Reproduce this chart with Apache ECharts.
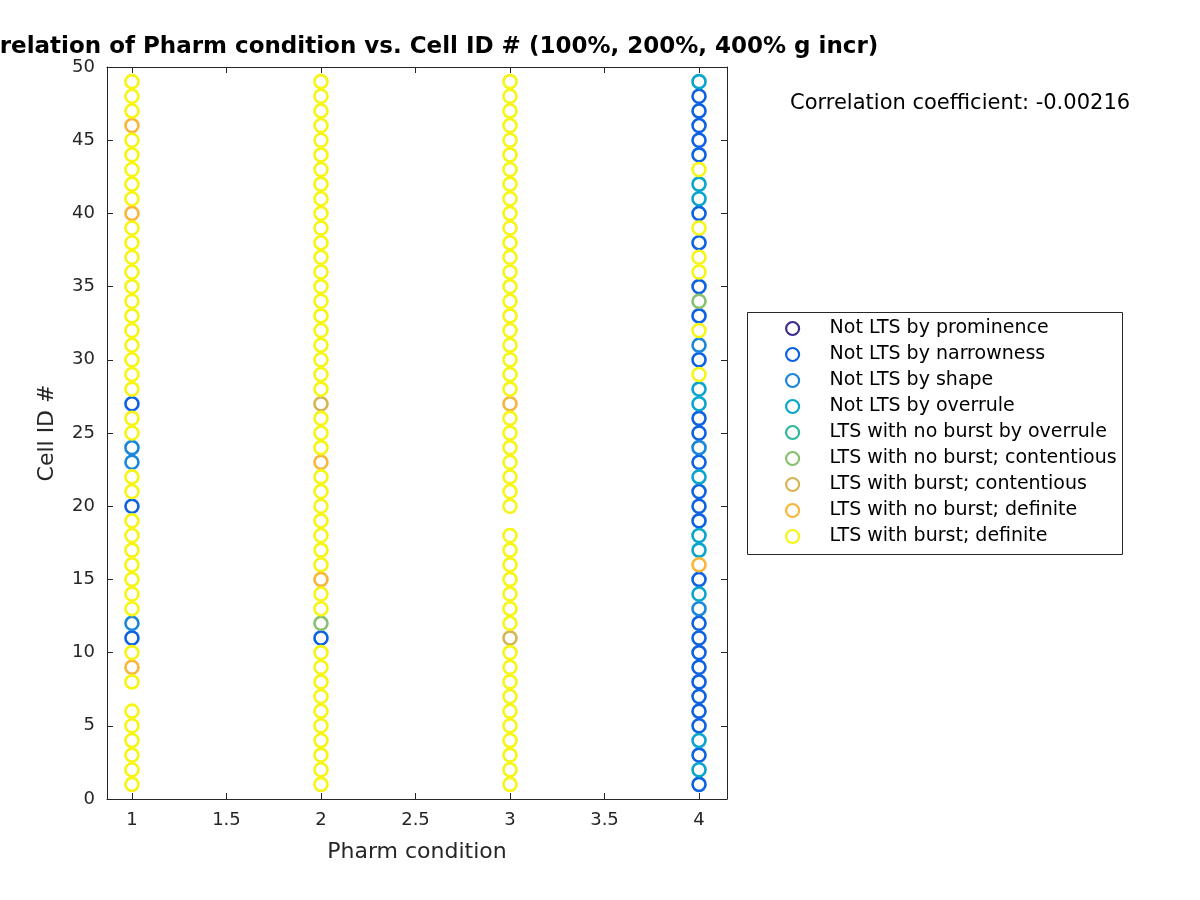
<!DOCTYPE html>
<html>
<head>
<meta charset="utf-8">
<script src="https://cdn.jsdelivr.net/npm/echarts@6/dist/echarts.min.js"></script>
<style>html,body{margin:0;padding:0;background:#fff}#c{width:1200px;height:900px}</style>
</head>
<body>
<div id="c"></div>
<script>
const categoryNames = ['Not LTS by prominence','Not LTS by narrowness','Not LTS by shape','Not LTS by overrule','LTS with no burst by overrule','LTS with no burst; contentious','LTS with burst; contentious','LTS with no burst; definite','LTS with burst; definite'];
const categoryColors = ['#3b2d8f','#0d62e2','#1a86dc','#0aa5cc','#2fb7a0','#88c06e','#d6b451','#f9b53a','#f7f514'];
const pharmConditions = [1, 2, 3, 4];
// category code for each Cell ID 1..49 (null = no point)
const cond1Cats = [8,8,8,8,8,8,null,8,7,8, 1,2,8,8,8,8,8,8,8,1, 8,8,2,2,8,8,1,8,8,8, 8,8,8,8,8,8,8,8,8,7, 8,8,8,8,8,7,8,8,8];
const cond2Cats = [8,8,8,8,8,8,8,8,8,8, 1,5,8,8,7,8,8,8,8,8, 8,8,7,8,8,8,6,8,8,8, 8,8,8,8,8,8,8,8,8,8, 8,8,8,8,8,8,8,8,8];
const cond3Cats = [8,8,8,8,8,8,8,8,8,8, 6,8,8,8,8,8,8,8,null,8, 8,8,8,8,8,8,7,8,8,8, 8,8,8,8,8,8,8,8,8,8, 8,8,8,8,8,8,8,8,8];
const cond4Cats = [1,3,1,3,1,1,1,1,1,1, 1,1,2,3,1,7,3,3,1,1, 1,3,1,2,1,1,3,3,8,1, 2,8,1,5,1,8,8,1,8,1, 3,3,8,1,1,1,1,1,3];
const xTicks = [1,1.5,2,2.5,3,3.5,4];
const corrText = 'Correlation coefficient: -0.00216';
const titleText = 'Correlation of Pharm condition vs. Cell ID # (100%, 200%, 400% g incr)';

const allCats = [cond1Cats, cond2Cats, cond3Cats, cond4Cats];
const seriesData = categoryNames.map(() => []);
allCats.forEach((arr, ci) => {
  arr.forEach((c, i) => { if (c !== null) seriesData[c].push([pharmConditions[ci], i + 1]); });
});

const font = 'DejaVu Sans';
const txt = '#262626';
const chart = echarts.init(document.getElementById('c'), null, {renderer: 'canvas'});
const axisLineStyle = {color: '#262626', width: 1};
const xMin = 0.868, xMax = 4.148;
chart.setOption({
  animation: false,
  backgroundColor: '#fff',
  grid: {left: 107, top: 67, right: 473, bottom: 101, show: false},
  xAxis: [{
    type: 'value', min: xMin, max: xMax, position: 'bottom',
    name: 'Pharm condition', nameLocation: 'middle', nameGap: 42,
    nameTextStyle: {fontFamily: font, fontSize: 22, color: txt},
    axisLine: {show: true, onZero: false, lineStyle: axisLineStyle},
    axisTick: {show: true, inside: true, length: 6, customValues: xTicks, lineStyle: axisLineStyle},
    axisLabel: {show: true, customValues: xTicks, fontFamily: font, fontSize: 18, color: txt, margin: 12},
    splitLine: {show: false}
  }, {
    type: 'value', min: xMin, max: xMax, position: 'top',
    axisLine: {show: true, onZero: false, lineStyle: axisLineStyle},
    axisTick: {show: true, inside: true, length: 6, customValues: xTicks, lineStyle: axisLineStyle},
    axisLabel: {show: false}, splitLine: {show: false}
  }],
  yAxis: [{
    type: 'value', min: 0, max: 50, interval: 5, position: 'left',
    name: 'Cell ID #', nameLocation: 'middle', nameGap: 49, nameRotate: 90,
    nameTextStyle: {fontFamily: font, fontSize: 22, color: txt},
    axisLine: {show: true, onZero: false, lineStyle: axisLineStyle},
    axisTick: {show: true, inside: true, length: 6, lineStyle: axisLineStyle},
    axisLabel: {fontFamily: font, fontSize: 18, color: txt, margin: 12},
    splitLine: {show: false}
  }, {
    type: 'value', min: 0, max: 50, interval: 5, position: 'right',
    axisLine: {show: true, onZero: false, lineStyle: axisLineStyle},
    axisTick: {show: true, inside: true, length: 6, lineStyle: axisLineStyle},
    axisLabel: {show: false}, splitLine: {show: false}
  }],
  legend: {
    orient: 'vertical', left: 747, top: 312, padding: [7, 8, 10, 38],
    itemWidth: 64, itemHeight: 13, itemGap: 7,
    textStyle: {fontFamily: font, fontSize: 19, color: '#000'},
    selectedMode: false,
    data: categoryNames.map((n, i) => ({name: n, icon: 'circle',
      itemStyle: {color: '#fff', borderColor: categoryColors[i], borderWidth: 2.2, opacity: 1}}))
  },
  graphic: [
    {type: 'rect', shape: {x: 747.5, y: 312.5, width: 375, height: 242}, style: {fill: null, stroke: '#262626', lineWidth: 1}, z: 0, silent: true},
    {type: 'text', x: 417, y: 47, style: {text: titleText, font: 'bold 23px "DejaVu Sans"', fill: '#000', textAlign: 'center', textVerticalAlign: 'middle'}},
    {type: 'text', x: 790, y: 104, style: {text: corrText, font: '21px "DejaVu Sans"', fill: '#000', textAlign: 'left', textVerticalAlign: 'middle'}}
  ],
  series: categoryNames.map((n, i) => ({
    name: n, type: 'scatter', xAxisIndex: 0, yAxisIndex: 0,
    symbol: 'circle', symbolSize: 13,
    itemStyle: {color: 'rgba(255,255,255,0)', borderColor: categoryColors[i], borderWidth: 2.6, opacity: 1},
    data: seriesData[i], silent: true
  }))
});
</script>
</body>
</html>
